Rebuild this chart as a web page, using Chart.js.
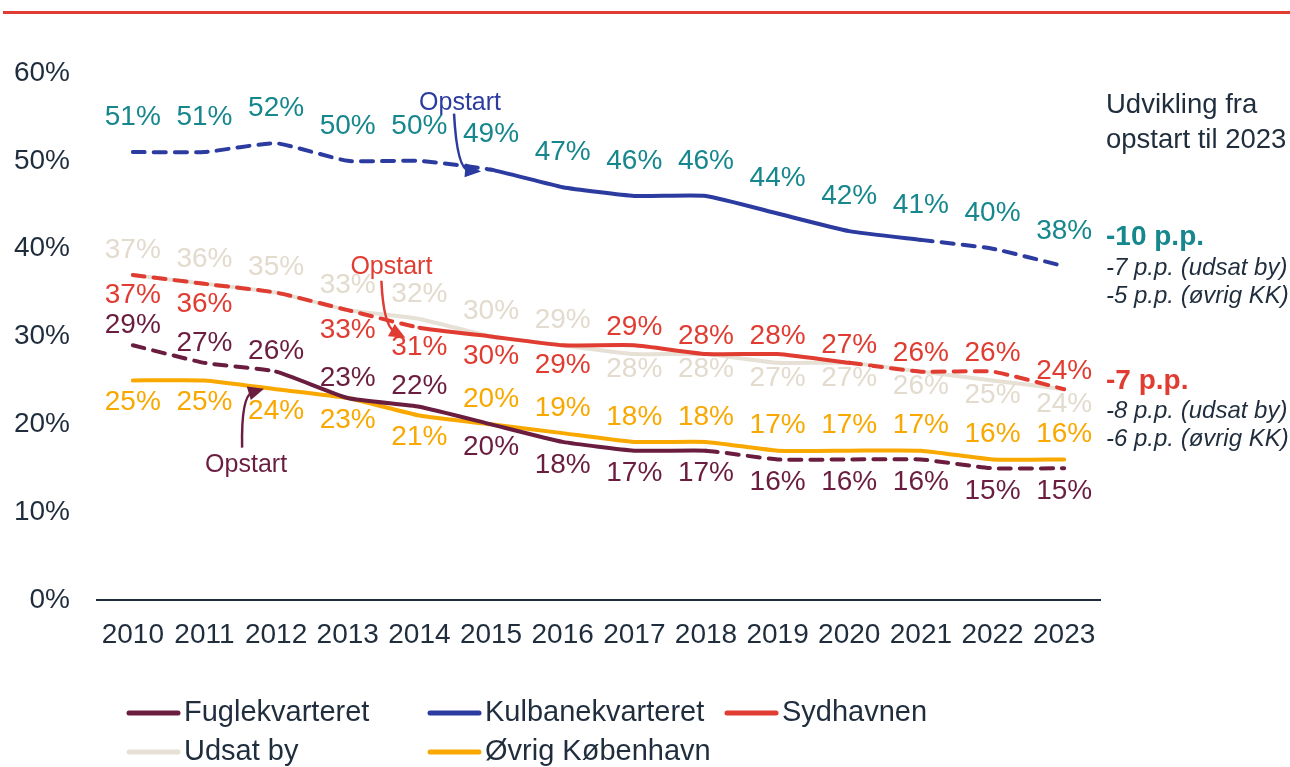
<!DOCTYPE html>
<html lang="da">
<head>
<meta charset="utf-8">
<title>Udvikling 2010-2023</title>
<script src="https://cdn.jsdelivr.net/npm/chart.js@4.4.1/dist/chart.umd.min.js"></script>
<style>
  html, body { margin: 0; padding: 0; background: #fff; }
  #wrap { position: relative; width: 1290px; height: 767px; }
</style>
</head>
<body>
<div id="wrap"><canvas id="chart" width="1290" height="767"></canvas></div>
<script>
// ---- data -------------------------------------------------------------
const years = ['2010', '2011', '2012', '2013', '2014', '2015', '2016',
               '2017', '2018', '2019', '2020', '2021', '2022', '2023'];

const fuglekvarteret   = [29, 27, 26, 23, 22, 20, 18, 17, 17, 16, 16, 16, 15, 15];
const kulbanekvarteret = [51, 51, 52, 50, 50, 49, 47, 46, 46, 44, 42, 41, 40, 38];
const sydhavnen        = [37, 36, 35, 33, 31, 30, 29, 29, 28, 28, 27, 26, 26, 24];
const udsatBy          = [37, 36, 35, 33, 32, 30, 29, 28, 28, 27, 27, 26, 25, 24];
const oevrigKbh        = [25, 25, 24, 23, 21, 20, 19, 18, 18, 17, 17, 17, 16, 16];

const yTicks = [0, 10, 20, 30, 40, 50, 60];

// where each value label sits: 1 above the line, -1 below, 0 hidden
const fugleSide   = [1, 1, 1, 1, 1, -1, -1, -1, -1, -1, -1, -1, -1, -1];
const kulbaneSide = [1, 1, 1, 1, 1, 1, 1, 1, 1, 1, 1, 1, 1, 1];
const sydSide     = [-1, -1, 0, -1, -1, -1, -1, 1, 1, 1, 1, 1, 1, 1];
const udsatSide   = [1, 1, 1, 1, 1, 1, 1, -1, -1, -1, -1, -1, -1, -1];
const oevrigSide  = [-1, -1, -1, -1, -1, 1, 1, 1, 1, 1, 1, 1, 1, 1];

// ---- look -------------------------------------------------------------
const FONT  = "'Liberation Sans', Arial, sans-serif";
const NAVY  = '#1f2d3d';
const C_FUGLE = '#6a1d3f';
const C_KUL   = '#2b3b9f';
const C_KUL_T = '#16878d';
const C_SYD   = '#e03c31';
const C_UDS   = '#e6e0d5';
const C_UDS_T = '#e2dbce';
const C_OEV   = '#f9a800';

const DASH = [12, 9];

// segments outside [from, to] are drawn dashed (before/after the project period)
function dashOutside(from, to) {
  return ctx => (ctx.p0DataIndex < from || ctx.p1DataIndex > to) ? DASH : undefined;
}

function series(label, data, color, labelColor, side, solid, gapUp, gapDown) {
  return {
    label, data,
    borderColor: color,
    backgroundColor: color,
    borderWidth: 4,
    borderCapStyle: 'round',
    pointRadius: 0,
    tension: 0.15,
    segment: solid ? { borderDash: dashOutside(solid[0], solid[1]) } : undefined,
    labelColor, side, gapUp, gapDown
  };
}

const datasets = [
  series('Fuglekvarteret',   fuglekvarteret,   C_FUGLE, C_FUGLE, fugleSide,   [2, 8],  -20, 23),
  series('Kulbanekvarteret', kulbanekvarteret, C_KUL,   C_KUL_T, kulbaneSide, [5, 11], -35, 25),
  series('Sydhavnen',        sydhavnen,        C_SYD,   C_SYD,   sydSide,     [4, 10], -18, 20),
  series('Udsat by',         udsatBy,          C_UDS,   C_UDS_T, udsatSide,   null,    -25, 15),
  series('Øvrig København',  oevrigKbh,        C_OEV,   C_OEV,   oevrigSide,  null,    -25, 22)
];

// ---- plugins ----------------------------------------------------------
const valueLabels = {
  id: 'valueLabels',
  afterDatasetsDraw(chart) {
    const { ctx } = chart;
    ctx.save();
    ctx.font = `28px ${FONT}`;
    ctx.textAlign = 'center';
    ctx.textBaseline = 'middle';
    chart.data.datasets.forEach((ds, i) => {
      const meta = chart.getDatasetMeta(i);
      ds.data.forEach((v, j) => {
        const s = ds.side[j];
        if (!s) return;
        const p = meta.data[j];
        const dy = s > 0 ? ds.gapUp : ds.gapDown;
        ctx.fillStyle = ds.labelColor;
        ctx.fillText(v + '%', p.x, p.y + dy);
      });
    });
    ctx.restore();
  }
};

function arrow(ctx, color, x0, y0, cx, cy, x1, y1) {
  ctx.strokeStyle = color;
  ctx.fillStyle = color;
  ctx.lineWidth = 2.5;
  const a = Math.atan2(y1 - cy, x1 - cx);
  const L = 16, W = 7;
  const bx = x1 - Math.cos(a) * L, by = y1 - Math.sin(a) * L;
  ctx.beginPath();
  ctx.moveTo(x0, y0);
  ctx.quadraticCurveTo(cx, cy, bx + Math.cos(a) * 4, by + Math.sin(a) * 4);
  ctx.stroke();
  ctx.beginPath();
  ctx.moveTo(x1, y1);
  ctx.lineTo(bx - Math.sin(a) * W, by + Math.cos(a) * W);
  ctx.lineTo(bx + Math.sin(a) * W, by - Math.cos(a) * W);
  ctx.closePath();
  ctx.fill();
}

const annotations = {
  id: 'annotations',
  beforeDraw(chart) {
    const { ctx } = chart;
    ctx.save();
    ctx.fillStyle = C_SYD;
    ctx.fillRect(3, 11, 1287, 3);
    ctx.restore();
  },
  afterDraw(chart) {
    const { ctx } = chart;
    const x = chart.scales.x, y = chart.scales.y;
    ctx.save();

    // "Opstart" markers
    ctx.font = `25px ${FONT}`;
    ctx.textAlign = 'center';
    ctx.textBaseline = 'middle';

    const kx = x.getPixelForValue(5), ky = y.getPixelForValue(kulbanekvarteret[5]);
    ctx.fillStyle = C_KUL;
    ctx.fillText('Opstart', kx - 31, ky - 67);
    arrow(ctx, C_KUL, kx - 37, ky - 56, kx - 34, ky, kx - 10, ky + 2);

    const sx = x.getPixelForValue(4), sy = y.getPixelForValue(sydhavnen[4]);
    ctx.fillStyle = C_SYD;
    ctx.fillText('Opstart', sx - 28, sy - 61);
    arrow(ctx, C_SYD, sx - 38, sy - 47, sx - 36, sy - 2, sx - 14, sy + 10);

    const fx = x.getPixelForValue(2), fy = y.getPixelForValue(fuglekvarteret[2]);
    ctx.fillStyle = C_FUGLE;
    ctx.fillText('Opstart', fx - 30, fy + 93);
    arrow(ctx, C_FUGLE, fx - 34, fy + 76, fx - 35, fy + 24, fx - 12, fy + 17);

    // summary at the right
    const rx = 1106;
    ctx.textAlign = 'left';
    ctx.fillStyle = NAVY;
    ctx.font = `27.5px ${FONT}`;
    ctx.fillText('Udvikling fra', rx, 105);
    ctx.fillText('opstart til 2023', rx, 140);

    ctx.font = `bold 28px ${FONT}`;
    ctx.fillStyle = C_KUL_T;
    ctx.fillText('-10 p.p.', rx, 237);
    ctx.fillStyle = C_SYD;
    ctx.fillText('-7 p.p.', rx, 381);

    ctx.font = `italic 24px ${FONT}`;
    ctx.fillStyle = NAVY;
    ctx.fillText('-7 p.p. (udsat by)', rx, 268);
    ctx.fillText('-5 p.p. (øvrig KK)', rx, 296);
    ctx.fillText('-8 p.p. (udsat by)', rx, 411);
    ctx.fillText('-6 p.p. (øvrig KK)', rx, 439);

    // legend, two rows in fixed columns
    const cols = [127, 428, 725], rows = [713, 752];
    ctx.font = `29px ${FONT}`;
    ctx.lineCap = 'round';
    chart.data.datasets.forEach((ds, i) => {
      const lx = cols[i % 3], ly = rows[Math.floor(i / 3)];
      ctx.strokeStyle = ds.borderColor;
      ctx.lineWidth = 5;
      ctx.beginPath();
      ctx.moveTo(lx + 2, ly);
      ctx.lineTo(lx + 51, ly);
      ctx.stroke();
      ctx.fillStyle = NAVY;
      ctx.fillText(ds.label, lx + 57, ly);
    });

    ctx.restore();
  }
};

// ---- chart ------------------------------------------------------------
new Chart(document.getElementById('chart'), {
  type: 'line',
  data: { labels: years, datasets },
  options: {
    responsive: false,
    animation: false,
    devicePixelRatio: 1,
    layout: { padding: { top: 73, right: 190, bottom: 0, left: 0 } },
    plugins: {
      legend: { display: false },
      tooltip: { enabled: false }
    },
    scales: {
      x: {
        offset: true,
        grid: { display: false, drawTicks: false },
        border: { display: true, color: NAVY, width: 2 },
        ticks: { color: NAVY, font: { family: FONT, size: 28 }, padding: 18, maxRotation: 0, autoSkip: false },
        afterFit: s => { s.height = 167; }
      },
      y: {
        min: 0,
        max: 60,
        grid: { display: false, drawTicks: false },
        border: { display: false },
        ticks: {
          color: NAVY,
          font: { family: FONT, size: 28 },
          padding: 27,
          callback: v => v + '%'
        },
        afterBuildTicks: s => { s.ticks = yTicks.map(v => ({ value: v })); },
        afterFit: s => { s.width = 97; }
      }
    }
  },
  plugins: [valueLabels, annotations]
});
</script>
</body>
</html>
